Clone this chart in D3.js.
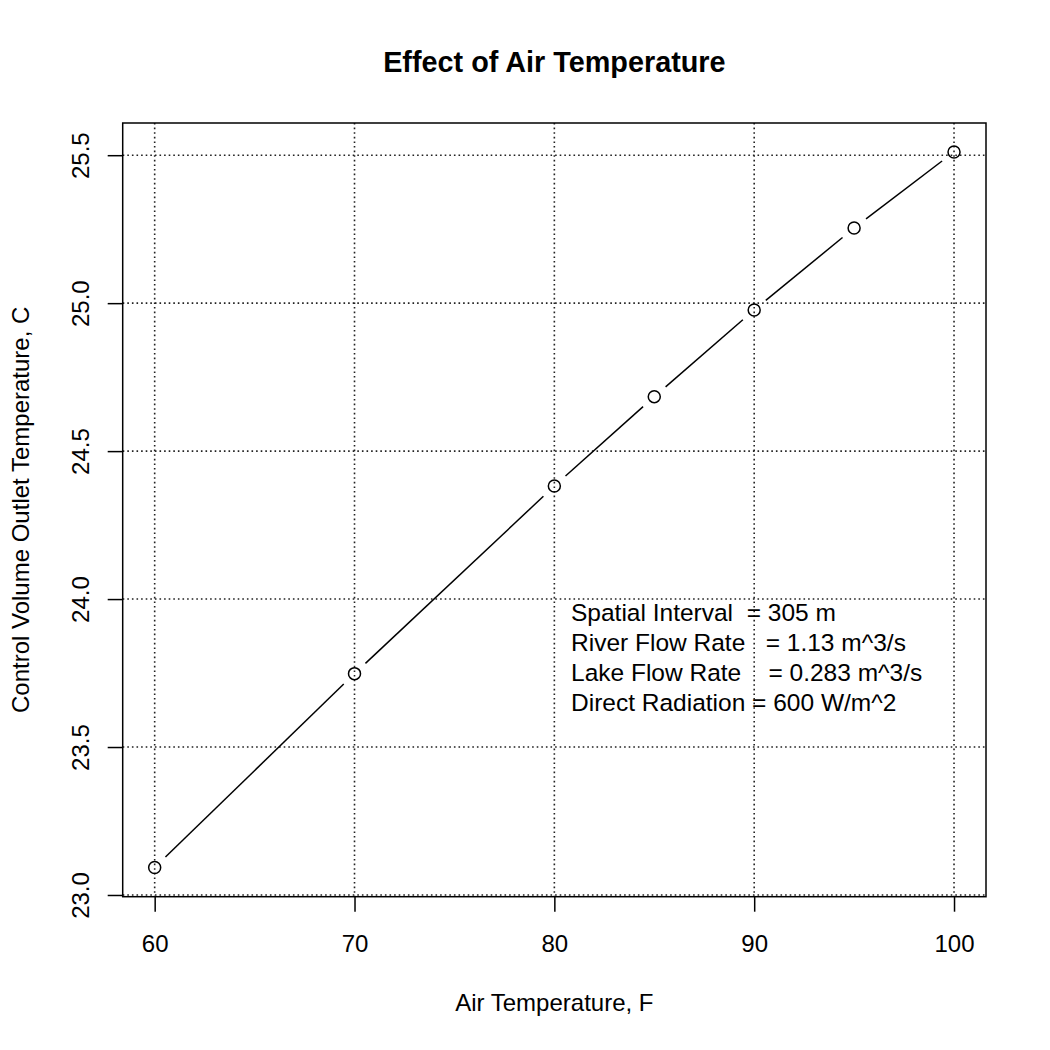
<!DOCTYPE html>
<html>
<head>
<meta charset="utf-8">
<script src="https://cdn.jsdelivr.net/npm/d3@7"></script>
<style>
  body { margin: 0; background: #fff; }
  text { font-family: "Liberation Sans", Arial, Helvetica, sans-serif; fill: #000; }
</style>
</head>
<body>
<script>
// data
var air_temp = [60, 70, 80, 85, 90, 95, 100];
var outlet_temp = [23.093, 23.748, 24.382, 24.684, 24.977, 25.254, 25.511];
var x_ticks = [60, 70, 80, 90, 100];
var y_ticks = [23.0, 23.5, 24.0, 24.5, 25.0, 25.5];
var notes = ["Spatial Interval  = 305 m",
             "River Flow Rate   = 1.13 m^3/s",
             "Lake Flow Rate    = 0.283 m^3/s",
             "Direct Radiation = 600 W/m^2"];

var width = 1050;
var height = 1050;
var pl = 122.7, pr = 986, pt = 123, pb = 896.7;

var svg = d3.select("body")
            .append("svg")
            .attr("width", width)
            .attr("height", height);

// R style 4% padding round the data
var x_scale = d3.scaleLinear()
                .domain([58.4, 101.6])
                .range([pl, pr]);

var y_scale = d3.scaleLinear()
                .domain([22.9942, 25.6088])
                .range([pb, pt]);

// dotted grid
svg.selectAll(".vgrid")
   .data(x_ticks)
   .enter()
   .append("line")
   .attr("x1", function(d) { return x_scale(d); })
   .attr("x2", function(d) { return x_scale(d); })
   .attr("y1", pt)
   .attr("y2", pb)
   .attr("stroke", "#222")
   .attr("stroke-width", 1.6)
   .attr("stroke-dasharray", "1.6,3");

svg.selectAll(".hgrid")
   .data(y_ticks)
   .enter()
   .append("line")
   .attr("y1", function(d) { return y_scale(d); })
   .attr("y2", function(d) { return y_scale(d); })
   .attr("x1", pl)
   .attr("x2", pr)
   .attr("stroke", "#222")
   .attr("stroke-width", 1.6)
   .attr("stroke-dasharray", "1.6,3");

// axes
var x_axis = d3.axisBottom(x_scale).tickValues(x_ticks).tickSize(15)
               .tickFormat(d3.format("d"));
var y_axis = d3.axisLeft(y_scale).tickValues(y_ticks).tickSize(15)
               .tickFormat(d3.format(".1f"));

var gx = svg.append("g")
   .attr("transform", "translate(0," + pb + ")")
   .call(x_axis);
gx.select(".domain").remove();
gx.selectAll("line").attr("stroke", "#000").attr("stroke-width", 1.5);
gx.selectAll("text")
  .style("font-size", "24px")
  .style("font-family", "'Liberation Sans', Arial, sans-serif")
  .attr("fill", "#000")
  .attr("y", 55).attr("dy", "0");

var gy = svg.append("g")
   .attr("transform", "translate(" + pl + ",0)")
   .call(y_axis);
gy.select(".domain").remove();
gy.selectAll("line").attr("stroke", "#000").attr("stroke-width", 1.5);
gy.selectAll("text")
  .style("font-size", "24px")
  .style("font-family", "'Liberation Sans', Arial, sans-serif")
  .attr("fill", "#000")
  .attr("text-anchor", "middle")
  .attr("x", 0).attr("dy", "0")
  .attr("transform", "translate(-34,0) rotate(-90)");

// box
svg.append("rect")
   .attr("x", pl)
   .attr("y", pt)
   .attr("width", pr - pl)
   .attr("height", pb - pt)
   .attr("fill", "none")
   .attr("stroke", "#000")
   .attr("stroke-width", 1.5);

// type = "b": segments with gaps round the points
var pts = air_temp.map(function(d, i) { return [x_scale(d), y_scale(outlet_temp[i])]; });
var gap = 15;
var segs = [];
for (var i = 0; i < pts.length - 1; i++)
{
  var dx = pts[i+1][0] - pts[i][0], dy = pts[i+1][1] - pts[i][1];
  var len = Math.sqrt(dx*dx + dy*dy);
  var ux = dx/len, uy = dy/len;
  segs.push([pts[i][0] + ux*gap, pts[i][1] + uy*gap, pts[i+1][0] - ux*gap, pts[i+1][1] - uy*gap]);
}

svg.selectAll(".seg")
   .data(segs)
   .enter()
   .append("line")
   .attr("x1", function(d) { return d[0]; })
   .attr("y1", function(d) { return d[1]; })
   .attr("x2", function(d) { return d[2]; })
   .attr("y2", function(d) { return d[3]; })
   .attr("stroke", "#000")
   .attr("stroke-width", 1.5);

svg.selectAll(".pt")
   .data(air_temp)
   .enter()
   .append("circle")
   .attr("cx", function(d) { return x_scale(d); })
   .attr("cy", function(d, i) { return y_scale(outlet_temp[i]); })
   .attr("r", 6)
   .attr("fill", "none")
   .attr("stroke", "#000")
   .attr("stroke-width", 1.5);

// notes
svg.selectAll(".note")
   .data(notes)
   .enter()
   .append("text")
   .attr("x", 571)
   .attr("y", function(d, i) { return 620.5 + i*30; })
   .style("font-size", "24.5px")
   .style("white-space", "pre")
   .attr("xml:space", "preserve")
   .text(function(d) { return d; });

// titles
svg.append("text")
   .attr("x", (pl + pr)/2)
   .attr("y", 72)
   .attr("text-anchor", "middle")
   .style("font-size", "28.8px")
   .style("font-weight", "bold")
   .text("Effect of Air Temperature");

svg.append("text")
   .attr("x", (pl + pr)/2)
   .attr("y", 1011)
   .attr("text-anchor", "middle")
   .style("font-size", "24px")
   .text("Air Temperature, F");

svg.append("text")
   .attr("transform", "translate(28.6," + (pt + pb)/2 + ") rotate(-90)")
   .attr("text-anchor", "middle")
   .style("font-size", "24px")
   .text("Control Volume Outlet Temperature, C");
</script>
</body>
</html>
